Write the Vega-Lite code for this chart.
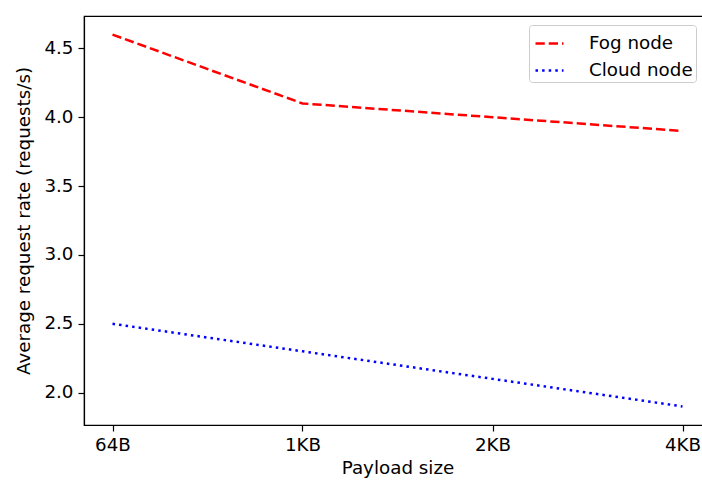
{
  "$schema": "https://vega.github.io/schema/vega-lite/v6.json",
  "autosize": {"type": "none"},
  "padding": {"left": 84, "top": 16, "right": 0, "bottom": 55},
  "width": 627,
  "height": 409,
  "background": "white",
  "config": {
    "font": "DejaVu Sans",
    "view": {"stroke": "black", "strokeWidth": 1.2},
    "axis": {
      "grid": false,
      "domainColor": "black",
      "tickColor": "black",
      "labelColor": "black",
      "titleColor": "black",
      "labelFontSize": 18.3,
      "titleFontSize": 18.3,
      "titleFontWeight": "normal",
      "tickSize": 6,
      "labelPadding": 5,
      "domainWidth": 1.2,
      "tickWidth": 1.2
    },
    "legend": {"labelFontSize": 18.3, "labelColor": "black"}
  },
  "data": {
    "values": [
      {"x": 0, "size": "64B", "node": "Fog node", "rate": 4.6},
      {"x": 1, "size": "1KB", "node": "Fog node", "rate": 4.1},
      {"x": 2, "size": "2KB", "node": "Fog node", "rate": 4.0},
      {"x": 3, "size": "4KB", "node": "Fog node", "rate": 3.9},
      {"x": 0, "size": "64B", "node": "Cloud node", "rate": 2.5},
      {"x": 1, "size": "1KB", "node": "Cloud node", "rate": 2.3},
      {"x": 2, "size": "2KB", "node": "Cloud node", "rate": 2.1},
      {"x": 3, "size": "4KB", "node": "Cloud node", "rate": 1.9}
    ]
  },
  "mark": {"type": "line", "strokeWidth": 2.5, "clip": true},
  "encoding": {
    "x": {
      "field": "x",
      "type": "quantitative",
      "scale": {"domain": [-0.15, 3.15], "nice": false, "zero": false},
      "axis": {
        "title": "Payload size",
        "values": [0, 1, 2, 3],
        "labelExpr": "['64B','1KB','2KB','4KB'][datum.value]",
        "titlePadding": 6
      }
    },
    "y": {
      "field": "rate",
      "type": "quantitative",
      "scale": {"domain": [1.765, 4.735], "nice": false, "zero": false},
      "axis": {
        "title": "Average request rate (requests/s)",
        "values": [2.0, 2.5, 3.0, 3.5, 4.0, 4.5],
        "format": ".1f",
        "titlePadding": 10
      }
    },
    "color": {
      "field": "node",
      "type": "nominal",
      "scale": {"domain": ["Fog node", "Cloud node"], "range": ["#ff0000", "#0000ff"]},
      "legend": {
        "title": null,
        "orient": "none",
        "legendX": 445,
        "legendY": 9,
        "symbolType": "stroke",
        "symbolSize": 784,
        "symbolOffset": 2,
        "symbolStrokeWidth": 2.5,
        "fillColor": "white",
        "strokeColor": "#cccccc",
        "cornerRadius": 3,
        "padding": 3,
        "labelOffset": 24,
        "rowPadding": 3
      }
    },
    "strokeDash": {
      "field": "node",
      "type": "nominal",
      "scale": {"domain": ["Fog node", "Cloud node"], "range": [[9.25, 4], [2.5, 4.1]]},
      "legend": null
    }
  }
}
